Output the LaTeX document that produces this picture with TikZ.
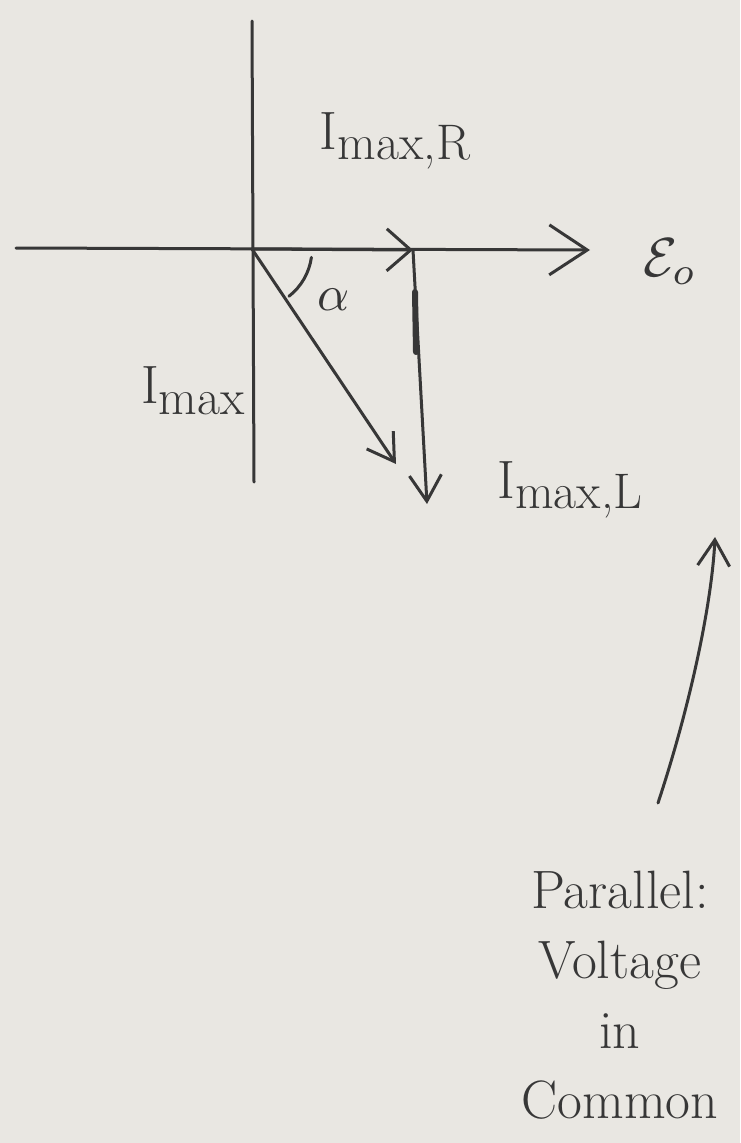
\documentclass[tikz,border=0pt]{standalone}
\usepackage{graphicx}
\usetikzlibrary{arrows.meta}
\definecolor{paper}{RGB}{233,231,226}
\definecolor{inkc}{RGB}{55,55,55}
\newcommand\lowsub[1]{\raisebox{-0.2em}{\fontsize{50}{50}\selectfont #1}}
\begin{document}
\begin{tikzpicture}[x=1pt,y=-1pt,
  ink/.style={draw=inkc, line width=3pt, line cap=round, line join=round},
  lbl/.style={text=inkc, font=\fontsize{54}{60}\selectfont, inner sep=0pt},
  bigtip/.style={-{Straight Barb[length=38pt,width=50pt,line width=3pt]}},
  midtip/.style={-{Straight Barb[length=24pt,width=42pt,line width=3pt]}},
  smalltip/.style={-{Straight Barb[length=26pt,width=32pt,line width=3pt]}}]
\fill[paper] (0,0) rectangle (740,1143);
\useasboundingbox (0,0) rectangle (740,1143);
% points
\coordinate (O) at (252,249);
\coordinate (xl) at (16,248);
\coordinate (xr) at (590,250);
\coordinate (yt) at (252,21);
\coordinate (yb) at (254,482);
\coordinate (R) at (413,250);
\coordinate (L) at (427,504);
\coordinate (M) at (396,464);
\coordinate (tail) at (658,803);
\coordinate (tip) at (715,537);
% axes
\draw[ink] (yt) -- (yb);
\draw[ink, bigtip] (xl) -- (xr);
% phasors
\draw[ink, midtip] (O) -- (R);
\draw[ink, smalltip] (O) -- (M);
\draw[ink, smalltip] (R) -- (L);
\draw[ink, line width=6pt] (415,292) -- (416,352);
% angle
\draw[ink] (O) ++(8:60) arc[start angle=8, end angle=52, radius=60];
% labels
\node[lbl] (lR) at (395,141) {I\lowsub{max,R}};
\node[lbl, font=\normalsize] (lE) at (670,262) {\scalebox{5.5}{$\mathcal{E}_o$}};
\node[lbl, font=\normalsize] (la) at (334,300) {\scalebox{5}{$\alpha$}};
\node[lbl] (lM) at (193,391) {I\lowsub{max}};
\node[lbl] (lL) at (570,490) {I\lowsub{max,L}};
% note
\draw[ink, smalltip] (tail) .. controls (692,700) and (712,600) .. (tip);
\node[lbl, align=center, font=\fontsize{54}{70}\selectfont] (note) at (620,995) {Parallel:\\Voltage\\in\\Common};
\end{tikzpicture}
\end{document}
